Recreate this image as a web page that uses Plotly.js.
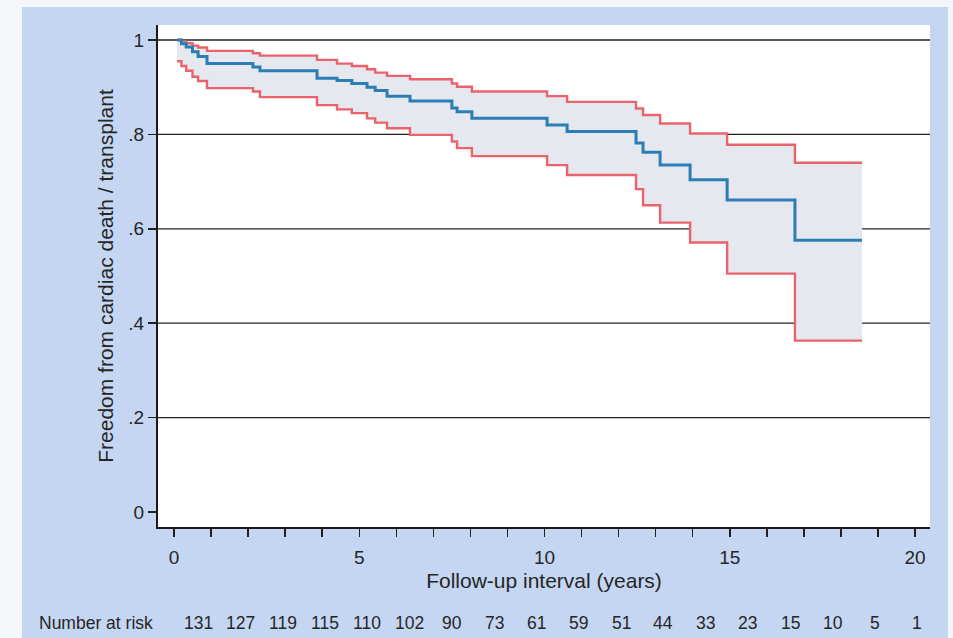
<!DOCTYPE html>
<html>
<head>
<meta charset="utf-8">
<script src="https://cdn.plot.ly/plotly-3.0.1.min.js"></script>
<style>
  html, body { margin: 0; padding: 0; background: #f4f6fa; width: 953px; height: 638px; overflow: hidden; }
  #bg { position: absolute; left: 22px; top: 7px; width: 926px; height: 631px; background: #c4d6f2; }
  #chart { position: absolute; left: 0; top: 0; width: 953px; height: 638px; }
</style>
</head>
<body>
<div id="bg"></div>
<div id="chart"></div>
<script>
// ---- data ----
const years    = [0.08, 0.2, 0.33, 0.5, 0.65, 0.89, 2.13, 2.32, 3.86, 4.4, 4.8, 5.21, 5.43, 5.75, 6.37, 7.5, 7.64, 8.04, 10.07, 10.61, 12.47, 12.66, 13.12, 13.93, 14.93, 16.76, 18.57];
const survival = [1.0, 0.992, 0.985, 0.975, 0.965, 0.95, 0.943, 0.935, 0.919, 0.914, 0.908, 0.90, 0.893, 0.881, 0.871, 0.856, 0.848, 0.834, 0.82, 0.806, 0.782, 0.762, 0.735, 0.704, 0.661, 0.576, 0.576];
const upperCI  = [1.0, 0.997, 0.993, 0.988, 0.984, 0.977, 0.972, 0.967, 0.958, 0.95, 0.945, 0.938, 0.931, 0.924, 0.917, 0.908, 0.901, 0.891, 0.881, 0.869, 0.855, 0.841, 0.823, 0.802, 0.778, 0.74, 0.74];
const lowerCI  = [0.955, 0.945, 0.935, 0.922, 0.913, 0.898, 0.891, 0.879, 0.862, 0.853, 0.845, 0.834, 0.825, 0.813, 0.799, 0.785, 0.771, 0.754, 0.735, 0.714, 0.684, 0.65, 0.613, 0.571, 0.505, 0.363, 0.363];

const xTickVals = [0,1,2,3,4,5,6,7,8,9,10,11,12,13,14,15,16,17,18,19,20];
const xTickText = ['0','','','','','5','','','','','10','','','','','15','','','','','20'];
const yTickVals = [0, 0.2, 0.4, 0.6, 0.8, 1];
const yTickText = ['0', '.2', '.4', '.6', '.8', '1'];
const gridVals  = [0.2, 0.4, 0.6, 0.8, 1];

const riskLabel  = 'Number at risk';
const riskCounts = [131, 127, 119, 115, 110, 102, 90, 73, 61, 59, 51, 44, 33, 23, 15, 10, 5, 1];

// ---- styling / layout ----
const RED = '#ea636c', BLUE = '#2b7db3', BAND = '#e5e8ef', INK = '#262626';
const FONT = 'Liberation Sans, Arial, sans-serif';
const plotLeft = 158, plotWidth = 772, plotBottom = 527, plotHeight = 502;
const riskStartPx = 198, riskStepPx = 42.3, riskRowPx = 623;

const traces = [
  { x: years, y: upperCI, mode: 'lines', line: { width: 0, shape: 'hv' }, hoverinfo: 'skip', showlegend: false },
  { x: years, y: lowerCI, mode: 'lines', line: { width: 0, shape: 'hv' }, fill: 'tonexty', fillcolor: BAND, hoverinfo: 'skip', showlegend: false },
  { x: years, y: upperCI, mode: 'lines', line: { color: RED, width: 2.4, shape: 'hv' }, showlegend: false },
  { x: years, y: lowerCI, mode: 'lines', line: { color: RED, width: 2.4, shape: 'hv' }, showlegend: false },
  { x: years, y: survival, mode: 'lines', line: { color: BLUE, width: 3, shape: 'hv' }, showlegend: false }
];

const shapes = gridVals.map(v => ({
  type: 'line', xref: 'paper', yref: 'y', x0: 0, x1: 1, y0: v, y1: v,
  line: { color: '#222', width: 1.3 }, layer: 'below'
}));

const annotations = [
  { text: riskLabel, xref: 'paper', yref: 'paper', x: (37 - plotLeft) / plotWidth, y: (plotBottom - riskRowPx) / plotHeight,
    xanchor: 'left', yanchor: 'middle', showarrow: false, font: { family: FONT, size: 17.5, color: INK } }
].concat(riskCounts.map((n, i) => ({
  text: String(n), xref: 'paper', yref: 'paper',
  x: (riskStartPx + i * riskStepPx - plotLeft) / plotWidth, y: (plotBottom - riskRowPx) / plotHeight,
  xanchor: 'center', yanchor: 'middle', showarrow: false, font: { family: FONT, size: 17.5, color: INK }
})));

const layout = {
  width: 953, height: 638,
  margin: { l: plotLeft, r: 953 - plotLeft - plotWidth, t: plotBottom - plotHeight, b: 638 - plotBottom },
  paper_bgcolor: 'rgba(0,0,0,0)',
  plot_bgcolor: '#ffffff',
  font: { family: FONT, color: INK },
  showlegend: false,
  xaxis: {
    range: [-0.432, 20.405], tickmode: 'array', tickvals: xTickVals, ticktext: xTickText,
    ticks: 'outside', ticklen: 8, tickwidth: 1.5, tickcolor: '#222',
    showline: true, linecolor: '#1a1a1a', linewidth: 2, showgrid: false, zeroline: false,
    tickfont: { family: FONT, size: 19, color: INK }, ticklabelstandoff: 4,
    title: { text: 'Follow-up interval (years)', font: { family: FONT, size: 21, color: INK }, standoff: 7 }
  },
  yaxis: {
    range: [-0.0318, 1.0318], tickmode: 'array', tickvals: yTickVals, ticktext: yTickText,
    ticks: 'outside', ticklen: 8, tickwidth: 1.5, tickcolor: '#222',
    showline: true, linecolor: '#1a1a1a', linewidth: 2, showgrid: false, zeroline: false,
    tickfont: { family: FONT, size: 19, color: INK },
    title: { text: 'Freedom from cardiac death / transplant', font: { family: FONT, size: 21, color: INK }, standoff: 9 }
  },
  shapes: shapes,
  annotations: annotations
};

Plotly.newPlot('chart', traces, layout, { displayModeBar: false, staticPlot: true });
</script>
</body>
</html>
